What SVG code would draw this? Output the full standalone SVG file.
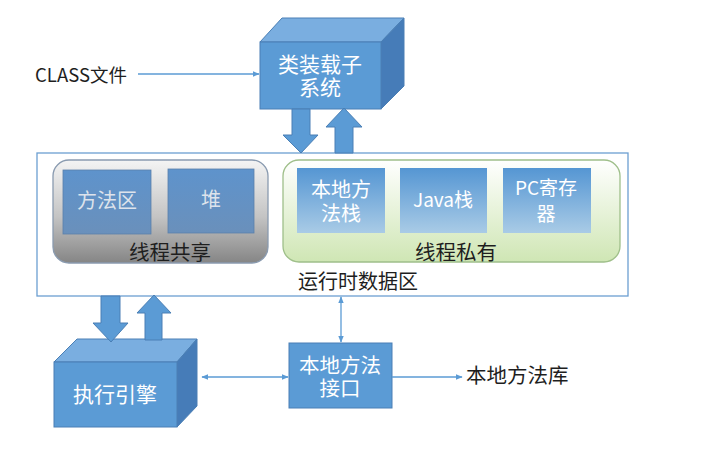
<svg xmlns="http://www.w3.org/2000/svg" width="705" height="456" viewBox="0 0 705 456">
<defs>
<style>
.t{font-family:"Noto Sans CJK SC","Liberation Sans",sans-serif;}
.w{fill:#ffffff;}
.k{fill:#1e1e1e;}
.front{fill:#5b9bd5;stroke:#4a7fb5;stroke-width:1;}
.top{fill:#7aaee0;stroke:#4a7fb5;stroke-width:1;}
.side{fill:#467cb8;stroke:#4a7fb5;stroke-width:1;}
.big{fill:#5b9bd5;stroke:#4a7fb5;stroke-width:1;}
.ln{stroke:#5b9bd5;stroke-width:1.3;fill:none;}
</style>
<linearGradient id="gGray" x1="0" y1="0" x2="0" y2="1">
<stop offset="0" stop-color="#f4f4f4"/>
<stop offset="0.55" stop-color="#c4c4c4"/>
<stop offset="1" stop-color="#858585"/>
</linearGradient>
<linearGradient id="gGreen" x1="0" y1="0" x2="0" y2="1">
<stop offset="0" stop-color="#ffffff"/>
<stop offset="1" stop-color="#cfe6b4"/>
</linearGradient>
<linearGradient id="gBlueS" x1="0" y1="0" x2="0" y2="1">
<stop offset="0" stop-color="#5e93cc"/>
<stop offset="1" stop-color="#6a90bb"/>
</linearGradient>
<linearGradient id="gBlueP" x1="0" y1="0" x2="0" y2="1">
<stop offset="0" stop-color="#5596d3"/>
<stop offset="1" stop-color="#a9cbe6"/>
</linearGradient>
<marker id="ah" viewBox="0 0 10 10" refX="9" refY="5" markerWidth="7" markerHeight="7" orient="auto-start-reverse" markerUnits="userSpaceOnUse">
<path d="M0,1 L10,5 L0,9 z" fill="#5b9bd5"/>
</marker>
</defs>
<rect width="705" height="456" fill="#ffffff"/>

<g id="runtime">
<rect x="37" y="153" width="591" height="143" fill="#ffffff" stroke="#6c9fd2" stroke-width="1.3"/>
<text class="t k" x="298" y="289" font-size="20">运行时数据区</text>
</g>

<g id="shared">
<rect x="53" y="160" width="215" height="103" rx="16" fill="url(#gGray)" stroke="#8a9bb0" stroke-width="1.3"/>
<text class="t k" x="170" y="260" font-size="20.5" text-anchor="middle">线程共享</text>
</g>
<g id="method-area">
<rect x="63" y="170" width="88" height="64" fill="url(#gBlueS)" stroke="#5a7faa" stroke-width="0.8"/>
<text class="t" x="107" y="208" font-size="20" text-anchor="middle" fill="#dde3ec">方法区</text>
</g>
<g id="heap">
<rect x="168" y="169" width="86" height="64" fill="url(#gBlueS)" stroke="#5a7faa" stroke-width="0.8"/>
<text class="t" x="211" y="207" font-size="20" text-anchor="middle" fill="#dde3ec">堆</text>
</g>

<g id="private">
<rect x="283" y="160" width="337" height="102" rx="16" fill="url(#gGreen)" stroke="#9fbf8a" stroke-width="1.3"/>
<text class="t k" x="456" y="260" font-size="20.5" text-anchor="middle">线程私有</text>
</g>
<g id="native-stack">
<rect x="297" y="168" width="88" height="65" fill="url(#gBlueP)"/>
<text class="t w" font-size="20" text-anchor="middle"><tspan x="341" y="197">本地方</tspan><tspan x="341" y="221">法栈</tspan></text>
</g>
<g id="java-stack">
<rect x="400" y="168" width="87" height="65" fill="url(#gBlueP)"/>
<text class="t w" x="443" y="207" font-size="19" text-anchor="middle">Java栈</text>
</g>
<g id="pc-register">
<rect x="503" y="168" width="88" height="65" fill="url(#gBlueP)"/>
<text class="t w" font-size="19" text-anchor="middle"><tspan x="546" y="195">PC寄存</tspan><tspan x="546" y="221">器</tspan></text>
</g>

<g id="class-loader">
<polygon class="top" points="260,42 282,18 404,18 381,42"/>
<polygon class="side" points="381,42 404,18 404,86 381,109"/>
<rect class="front" x="260" y="42" width="121" height="67"/>
<text class="t w" font-size="21" text-anchor="middle"><tspan x="320" y="72">类装载子</tspan><tspan x="320" y="95">系统</tspan></text>
</g>

<g id="exec-engine">
<polygon class="top" points="54,362 77,339 197,339 177,362"/>
<polygon class="side" points="177,362 197,339 197,406 177,427"/>
<rect class="front" x="54" y="362" width="123" height="65"/>
<text class="t w" x="115" y="402" font-size="21" text-anchor="middle">执行引擎</text>
</g>

<g id="native-interface">
<rect class="big" x="289" y="343" width="103" height="65"/>
<text class="t w" font-size="20.5" text-anchor="middle"><tspan x="340" y="373">本地方法</tspan><tspan x="340" y="396">接口</tspan></text>
</g>

<g id="class-file">
<text class="t k" x="35" y="82" font-size="18.5">CLASS文件</text>
</g>
<g id="native-lib">
<text class="t k" x="466" y="383" font-size="20.5">本地方法库</text>
</g>

<g id="connectors">
<line class="ln" x1="138" y1="74" x2="259" y2="74" marker-end="url(#ah)"/>
<line class="ln" x1="202" y1="377" x2="288" y2="377" marker-start="url(#ah)" marker-end="url(#ah)"/>
<line class="ln" x1="341" y1="297" x2="341" y2="342" marker-start="url(#ah)" marker-end="url(#ah)"/>
<line class="ln" x1="392" y1="377" x2="462" y2="377" marker-end="url(#ah)"/>
<polygon class="big" points="292,109 310,109 310,135 318,135 301,153 283,135 292,135"/>
<polygon class="big" points="335,153 353,153 353,127 362,127 344,108 326,127 335,127"/>
<polygon class="big" points="101,296 120,296 120,323 128,323 111,342 93,323 101,323"/>
<polygon class="big" points="145,340 162,340 162,313 171,313 154,295 137,313 145,313"/>
</g>
</svg>
